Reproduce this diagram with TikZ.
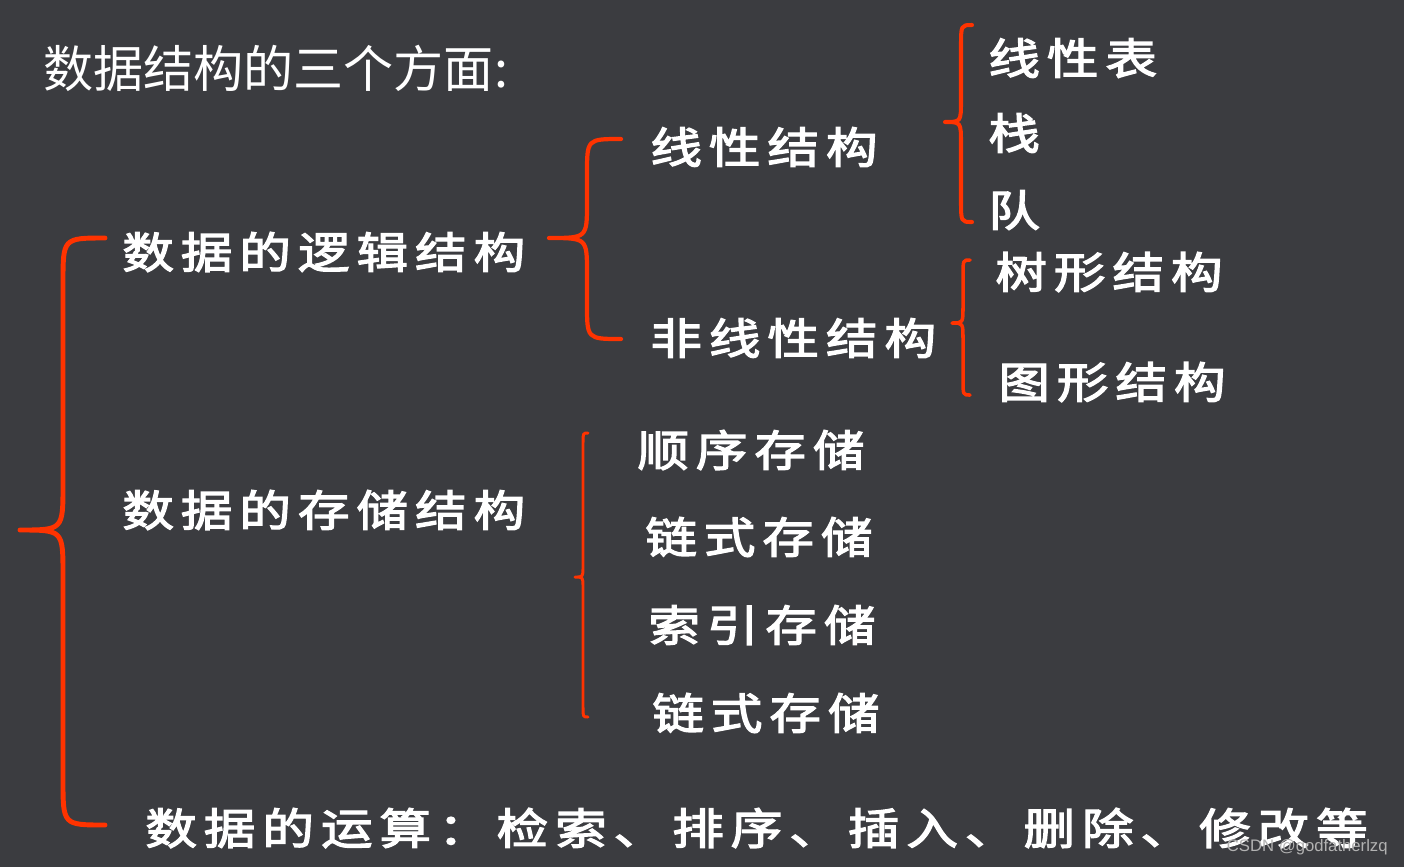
\documentclass[tikz,border=0pt]{standalone}
\usepackage{fontspec}
\setmainfont{Liberation Sans}
\newfontfamily\cjk{Noto Sans CJK SC}
\newfontfamily\cjkwide{Noto Sans CJK SC}[LetterSpace=16,FakeStretch=1.2,FakeBold=3]
\usetikzlibrary{positioning}

\definecolor{slate}{HTML}{3B3C40}
\definecolor{bracered}{HTML}{FF3300}

% brace: end x, line x, tip x, top y, tip y, bottom y, radius
\newcommand{\bracepath}[7]{%
  (#1,#4) .. controls (#2,#4) .. (#2,#4+#7) -- (#2,#5-#7)
  .. controls (#2,#5) .. (#3,#5) .. controls (#2,#5) .. (#2,#5+#7)
  -- (#2,#6-#7) .. controls (#2,#6) .. (#1,#6)}

\begin{document}
\begin{tikzpicture}[x=0.02cm,y=-0.02cm]

\tikzset{
  item/.style={
    anchor=west,
    inner sep=0pt,
    text=white,
    font=\cjkwide\fontsize{24.5}{24.5}\selectfont,
  },
  heading/.style={
    anchor=west,
    inner sep=0pt,
    text=white,
    font=\cjk\fontsize{28.5}{28.5}\selectfont,
  },
  brace/.style={
    draw=bracered,
    line width=#1,
    line cap=round,
    line join=round,
  },
}

  \fill[slate] (0,0) rectangle (1404,867);
  \useasboundingbox (0,0) rectangle (1404,867);

  % Title
  \node[heading] (title) at (43,68) {数据结构的三个方面:};

  % Level 1
  \node[item] (logic) at (122,252) {数据的逻辑结构};
  \node[item] (store) at (122,510) {数据的存储结构};
  \node[item] (ops)   at (145,828) {数据的运算：检索、排序、插入、删除、修改等};

  % Level 2
  \node[item] (linear)    at (650,147) {线性结构};
  \node[item] (nonlinear) at (650,338) {非线性结构};

  \node[item] (seq)   at (637,450) {顺序存储};
  \node[item] (link)  at (645,537) {链式存储};
  \node[item] (index) at (648,625) {索引存储};
  \node[item] (hash)  at (652,713) {链式存储};

  % Level 3
  \node[item] (list)  at (988,58)  {线性表};
  \node[item] (stack) at (988,133) {栈};
  \node[item] (queue) at (988,210) {队};

  \node[item] (tree)  at (995,272) {树形结构};
  \node[item] (graph) at (998,382) {图形结构};

  % Braces
  \draw[brace=2.8pt] \bracepath{105}{63}{20}{238}{530}{825}{45};
  \draw[brace=2.4pt] \bracepath{621}{587}{549}{139}{238}{339}{35};
  \draw[brace=2.3pt] \bracepath{972}{961}{945}{25}{122}{222}{22};
  \draw[brace=2pt]   \bracepath{970}{963}{952}{260}{323}{395}{16};
  \draw[brace=1.7pt] \bracepath{588}{583}{575}{433}{577}{717}{10};

  % Mark
  \node[anchor=east, inner sep=0pt, text=gray!60, font=\fontsize{9.5}{9.5}\selectfont]
    (mark) at (1388,847) {CSDN @godfatherlzq};
\end{tikzpicture}
\end{document}
